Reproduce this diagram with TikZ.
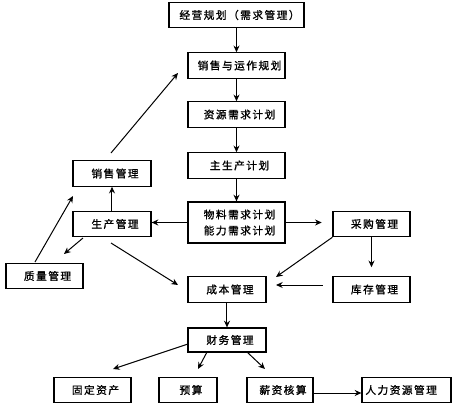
\documentclass[tikz,border=0pt]{standalone}
\usepackage{fontspec}
\newfontfamily\cjk{Noto Sans CJK SC}[LetterSpace=14,FakeBold=1.2]
\usetikzlibrary{arrows.meta}
\newcommand\bt[1]{\hspace*{4.5pt}#1}
\begin{document}
\begin{tikzpicture}[x=0.75pt,y=-0.75pt,
  box/.style={draw,line width=0.9pt,inner sep=0pt,minimum height=19pt,
    font=\cjk\fontsize{8}{12}\selectfont,align=center},
  arr/.style={-{Stealth[length=5pt,width=4.5pt]},line width=0.75pt}]
\useasboundingbox[fill=white] (0,0) rectangle (462,411);
% nodes
\node[box,minimum width=101.25pt] (b1) at (236.5,15) {\bt{经营规划（需求管理）}};
\node[box,minimum width=72.75pt] (b2) at (236.5,65.5) {\bt{销售与运作规划}};
\node[box,minimum width=72.75pt] (b3) at (236.5,114.5) {\bt{资源需求计划}};
\node[box,minimum width=72.75pt] (b4) at (236.5,165.5) {\bt{主生产计划}};
\node[box,minimum width=72.75pt,minimum height=30.75pt] (b5) at (236.5,222.5) {\bt{物料需求计划}\\\bt{能力需求计划}};
\node[box,minimum width=58.5pt] (xs) at (112,173.5) {\bt{销售管理}};
\node[box,minimum width=58.5pt] (sc) at (112,224) {\bt{生产管理}};
\node[box,minimum width=57.75pt] (cg) at (371.5,224) {\bt{采购管理}};
\node[box,minimum width=57.75pt] (zl) at (44.5,276) {\bt{质量管理}};
\node[box,minimum width=58.5pt] (cb) at (227,289.5) {\bt{成本管理}};
\node[box,minimum width=57.75pt] (kc) at (371.5,289.5) {\bt{库存管理}};
\node[box,minimum width=58.5pt,minimum height=18pt] (cw) at (227,340) {\bt{财务管理}};
\node[box,minimum width=57.75pt] (gd) at (92.5,390) {\bt{固定资产}};
\node[box,minimum width=43.5pt] (ys) at (188,390) {\bt{预算}};
\node[box,minimum width=49.5pt] (xz) at (280,390) {\bt{薪资核算}};
\node[box,minimum width=66.75pt] (rl) at (406.5,390) {\hspace*{-8pt}人力资源管理};
% free ends
\coordinate (p1s) at (111,153);  \coordinate (p1e) at (178,73);
\coordinate (p2s) at (35,262);   \coordinate (p2e) at (73,196);
\coordinate (p3s) at (83,238);   \coordinate (p3e) at (64,254);
\coordinate (p4s) at (111,243);  \coordinate (p4e) at (178,285);
\coordinate (p5e) at (276,277);
\coordinate (p6s) at (323,285);  \coordinate (p6e) at (276,285);
\coordinate (p7s) at (188,344);  \coordinate (p7e) at (113,369);
\coordinate (p8s) at (207,352);  \coordinate (p8e) at (198,369);
\coordinate (p9s) at (247,352);  \coordinate (p9e) at (265,369);
% connectors
\draw[arr] (b1) -- (b2);
\draw[arr] (b2) -- (b3);
\draw[arr] (b3) -- (b4);
\draw[arr] (b4) -- (b5);
\draw[arr] (b5.west) -- (b5.west -| sc.east);
\draw[arr,shorten >=8pt] (b5.east) -- (b5.east -| cg.west);
\draw[arr] (sc) -- (xs);
\draw[arr] (p1s) -- (p1e);
\draw[arr] (p2s) -- (p2e);
\draw[arr] (p3s) -- (p3e);
\draw[arr] (p4s) -- (p4e);
\draw[arr] (cg.south west) -- (p5e);
\draw[arr,shorten >=6.75pt] (cg) -- (kc);
\draw[arr] (p6s) -- (p6e);
\draw[arr] (cb) -- (cw);
\draw[arr] (p7s) -- (p7e);
\draw[arr] (p8s) -- (p8e);
\draw[arr] (p9s) -- (p9e);
\draw[arr] ([yshift=-2.25pt]xz.east) -- ([yshift=-2.25pt]rl.west);
\end{tikzpicture}
\end{document}
